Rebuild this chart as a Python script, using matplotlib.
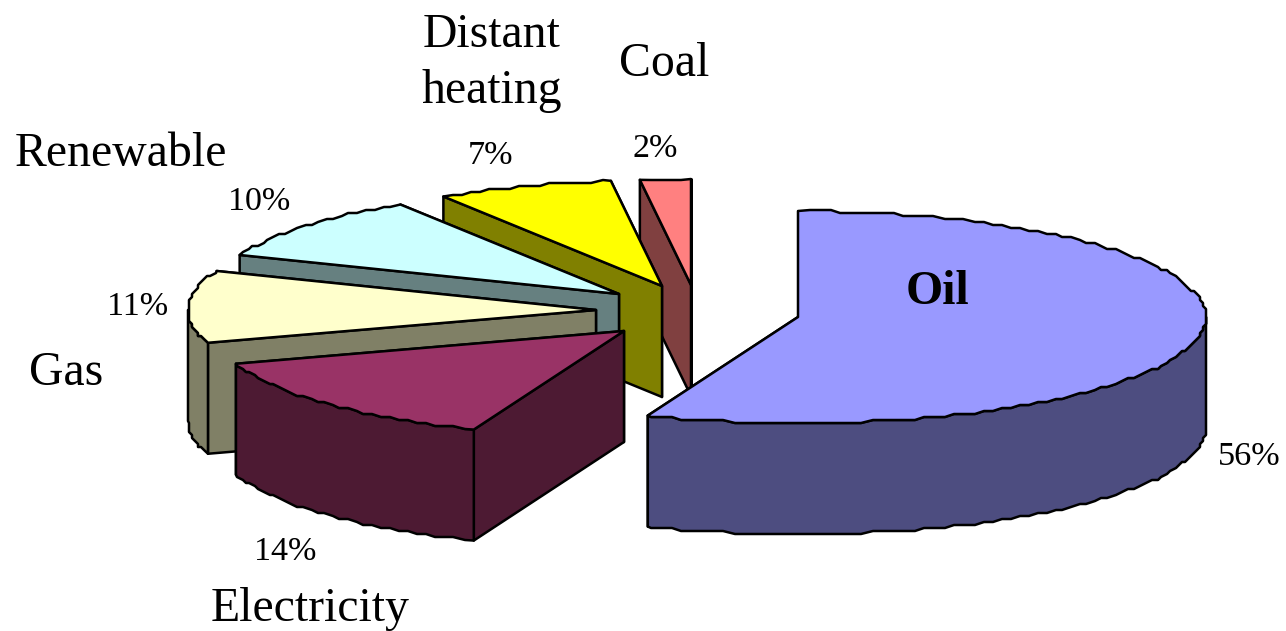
"""Exploded 3D pie of final energy use by carrier, drawn with plain polygons."""
import numpy as np
import matplotlib.pyplot as plt
from matplotlib.colors import to_rgb
from matplotlib.patches import Polygon

# clockwise from twelve o'clock
carriers = ["Oil", "Electricity", "Gas", "Renewable", "Distant\nheating", "Coal"]
shares = [56, 14, 11, 10, 7, 2]
share_labels = ["56%", "14%", "11%", "10%", "7%", "2%"]

colors = ["#9999FF", "#993366", "#FFFFCC", "#CCFFFF", "#FFFF00", "#FF8080"]

# exploded slice tips, in pixels
tips = [(798, 317), (624, 331), (596, 310), (619, 294), (662, 286), (691, 285)]

RX, RY = 408, 106
DEPTH = 111
SNAP = 3  # rim outline is stepped, like a low-res vector export

name_pos = [(938, 292), (310, 609), (66, 373), (121, 154), (492, 63), (664, 64)]
pct_pos = [(1249, 457), (285, 552), (138, 307), (259, 202), (491, 156), (655, 149)]

plt.rcParams["font.family"] = ["Liberation Serif", "DejaVu Serif"]

fig = plt.figure(figsize=(12.86, 6.31), dpi=100, facecolor="white")
ax = fig.add_axes([0, 0, 1, 1])
ax.set_xlim(0, 1286)
ax.set_ylim(631, 0)
ax.axis("off")


def rim_point(tip, theta):
    return (tip[0] + RX * np.sin(theta), tip[1] - RY * np.cos(theta))


def rim(tip, a, b):
    thetas = np.arange(a, b, np.radians(1.5))
    pts = [rim_point(tip, t) for t in thetas]
    pts = [(round(x / SNAP) * SNAP, round(y / SNAP) * SNAP) for x, y in pts]
    return [rim_point(tip, a)] + pts[1:] + [rim_point(tip, b)]


def down(pts):
    return [(x, y + DEPTH) for x, y in pts]


def poly(pts, color, z):
    ax.add_patch(Polygon(pts, closed=True, facecolor=color, edgecolor="black",
                         linewidth=1.8, joinstyle="round", zorder=z))


def cut_face(tip, theta, color, z):
    edge = [rim_point(tip, theta), tip]
    poly(edge + down(edge)[::-1], color, z)


edges = np.radians(np.cumsum([0] + shares) / sum(shares) * 360)

# back slices first so the front ones paint over them
for i in range(len(shares) - 1, -1, -1):
    a, b = edges[i], edges[i + 1]
    tip = tips[i]
    top = np.array(to_rgb(colors[i]))
    side = tuple(top * 0.5)
    z = 10 + (len(shares) - i) * 5

    cut_face(tip, b, side, z)
    cut_face(tip, a, side, z + 1)

    # outer wall only shows on the front half of the ellipse
    wall_a, wall_b = max(a, np.pi / 2), min(b, 1.5 * np.pi)
    if wall_b > wall_a:
        arc = rim(tip, wall_a, wall_b)
        poly(arc + down(arc)[::-1], side, z + 2)

    poly([tip] + rim(tip, a, b), colors[i], z + 3)

for name, (x, y) in zip(carriers, name_pos):
    bold = name == "Oil"
    ax.text(x, y, name, fontsize=34.4, ha="center", va="center", zorder=50,
            fontweight="bold" if bold else "normal", linespacing=1.35,
            color="black")

for pct, (x, y) in zip(share_labels, pct_pos):
    ax.text(x, y, pct, fontsize=24.6, ha="center", va="center", zorder=50,
            color="black")

fig.savefig("out.png", dpi=100, facecolor="white")
